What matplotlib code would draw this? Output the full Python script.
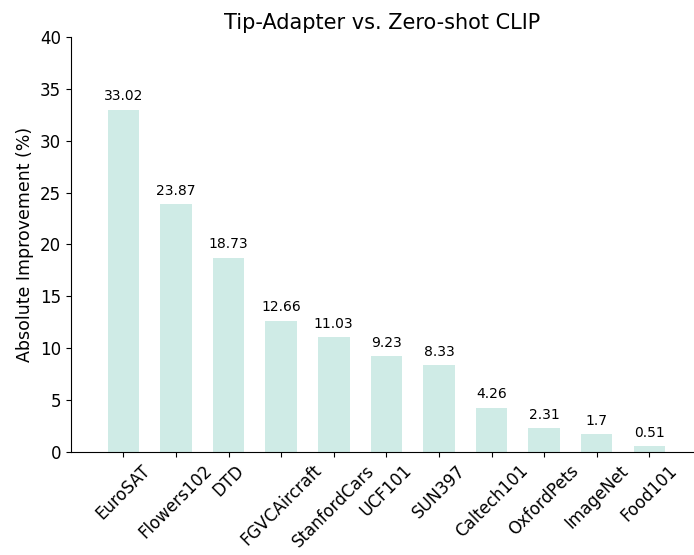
import matplotlib
matplotlib.use("Agg")
import matplotlib.pyplot as plt

categories = ["EuroSAT", "Flowers102", "DTD", "FGVCAircraft", "StanfordCars", "UCF101",
              "SUN397", "Caltech101", "OxfordPets", "ImageNet", "Food101"]
values = [33.02, 23.87, 18.73, 12.66, 11.03, 9.23, 8.33, 4.26, 2.31, 1.7, 0.51]
labels = ["33.02", "23.87", "18.73", "12.66", "11.03", "9.23", "8.33", "4.26", "2.31", "1.7", "0.51"]

fig = plt.figure(figsize=(6.94, 5.55), dpi=100)
ax = fig.add_axes([0.102, 0.186, 0.898, 0.747])
x = list(range(len(categories)))
bars = ax.bar(x, values, width=0.6, color="#CFEBE6")
for xi, v, lab in zip(x, values, labels):
    ax.text(xi, v + 0.6, lab, ha="center", va="bottom", fontsize=10)
ax.set_xticks(x)
ax.set_xticklabels(categories, rotation=45, fontsize=12)
ax.set_xlim(-1, 10.85)
ax.set_ylim(0, 40)
ax.set_yticks(range(0, 41, 5))
ax.tick_params(axis="y", labelsize=12)
ax.set_ylabel("Absolute Improvement (%)", fontsize=12.5)
ax.set_title("Tip-Adapter vs. Zero-shot CLIP", fontsize=15)
ax.spines["top"].set_visible(False)
ax.spines["right"].set_visible(False)
fig.savefig("out.png", dpi=100)
